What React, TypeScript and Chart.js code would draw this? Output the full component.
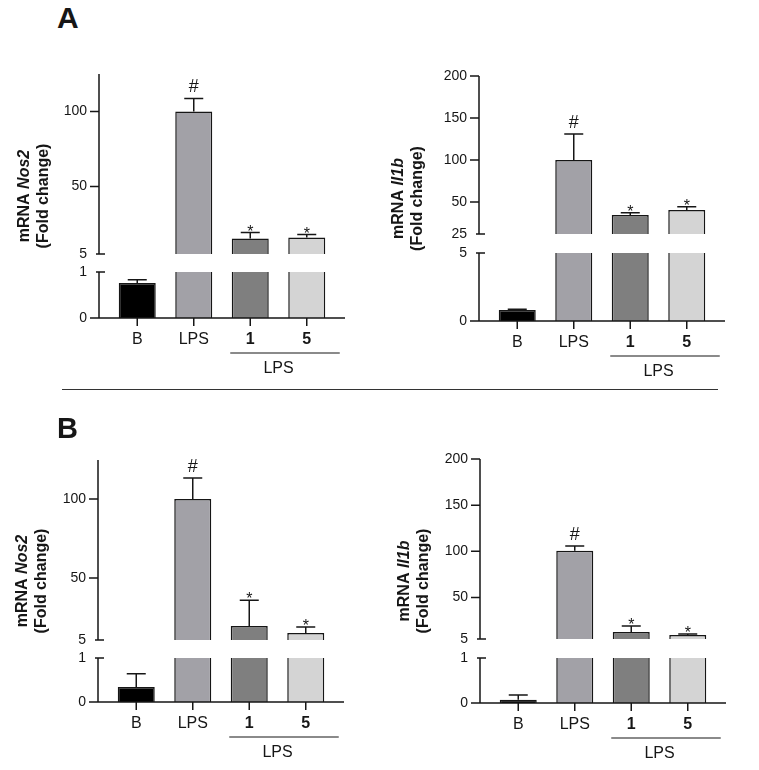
import { useEffect, useRef } from 'react';
import { Chart, registerables } from 'chart.js';

Chart.register(...registerables);

const FONT = '"Liberation Sans", Arial, Helvetica, sans-serif';
const INK = '#161616';

// ---------------- data ----------------
const categories = ['B', 'LPS', '1', '5'];
const boldCategory = [false, false, true, true];
const groupLabel = 'LPS';
const groupFrom = 2;
const groupTo = 3;
const marks = ['', '#', '*', '*'];
const barColors = ['#000000', '#a2a1a7', '#7f7f7f', '#d4d4d4'];

// Panel A – Nos2
const aNos2Mean = [0.76, 100, 15.3, 16];
const aNos2Err = [0.07, 8.7, 4, 2];
const aNos2UpperRange = [5, 125];
const aNos2UpperTicks = [5, 50, 100];
const aNos2UpperLabels = ['5', '50', '100'];
const aNos2LowerRange = [0, 1];
const aNos2LowerTicks = [0, 1];

// Panel A – Il1b
const aIl1bMean = [0.8, 100, 34.5, 40.5];
const aIl1bErr = [0.06, 31, 2.8, 3.9];
const aIl1bUpperRange = [12, 200];
const aIl1bUpperTicks = [12, 50, 100, 150, 200];
const aIl1bUpperLabels = ['25', '50', '100', '150', '200'];
const aIl1bLowerRange = [0, 5];
const aIl1bLowerTicks = [0, 5];

// Panel B – Nos2
const bNos2Mean = [0.34, 100, 19.6, 15.2];
const bNos2Err = [0.3, 13.3, 16.4, 3.8];
const bNos2UpperRange = [10.8, 124.7];
const bNos2UpperTicks = [10.8, 50, 100];
const bNos2UpperLabels = ['5', '50', '100'];
const bNos2LowerRange = [0, 1];
const bNos2LowerTicks = [0, 1];

// Panel B – Il1b
const bIl1bMean = [0.07, 100.5, 12.6, 9.3];
const bIl1bErr = [0.11, 5.3, 6.5, 1.1];
const bIl1bUpperRange = [5, 200];
const bIl1bUpperTicks = [5, 50, 100, 150, 200];
const bIl1bUpperLabels = ['5', '50', '100', '150', '200'];
const bIl1bLowerRange = [0, 1];
const bIl1bLowerTicks = [0, 1];

// ---------------- layout ----------------
const Y_W = 100; // y-scale width inside canvas
const AXIS_GAP = 10; // distance from y axis line to chart area
const AREA_W = 226;
const PAD_T = 32;
const PAD_B = 40;
const PAD_R = 16;
const X_H = 66;

type Spec = {
  gene: string;
  mean: number[];
  err: number[];
  upperRange: number[];
  upperTicks: number[];
  upperLabels: string[];
  lowerRange: number[];
  lowerTicks: number[];
  geo: { axisX: number; top: number; breakTop: number; breakBot: number; base: number; titleDX: number };
};

const panels: Spec[] = [
  {
    gene: 'Nos2', mean: aNos2Mean, err: aNos2Err,
    upperRange: aNos2UpperRange, upperTicks: aNos2UpperTicks, upperLabels: aNos2UpperLabels,
    lowerRange: aNos2LowerRange, lowerTicks: aNos2LowerTicks,
    geo: { axisX: 99, top: 74, breakTop: 254, breakBot: 272, base: 318, titleDX: -74 },
  },
  {
    gene: 'Il1b', mean: aIl1bMean, err: aIl1bErr,
    upperRange: aIl1bUpperRange, upperTicks: aIl1bUpperTicks, upperLabels: aIl1bUpperLabels,
    lowerRange: aIl1bLowerRange, lowerTicks: aIl1bLowerTicks,
    geo: { axisX: 479, top: 76, breakTop: 234, breakBot: 253, base: 321, titleDX: -80 },
  },
  {
    gene: 'Nos2', mean: bNos2Mean, err: bNos2Err,
    upperRange: bNos2UpperRange, upperTicks: bNos2UpperTicks, upperLabels: bNos2UpperLabels,
    lowerRange: bNos2LowerRange, lowerTicks: bNos2LowerTicks,
    geo: { axisX: 98, top: 460, breakTop: 640, breakBot: 658, base: 702, titleDX: -75 },
  },
  {
    gene: 'Il1b', mean: bIl1bMean, err: bIl1bErr,
    upperRange: bIl1bUpperRange, upperTicks: bIl1bUpperTicks, upperLabels: bIl1bUpperLabels,
    lowerRange: bIl1bLowerRange, lowerTicks: bIl1bLowerTicks,
    geo: { axisX: 480, top: 459, breakTop: 639, breakBot: 658, base: 703, titleDX: -75 },
  },
];

function makeDecor(spec: Spec, part: 'upper' | 'lower', canvasTop: number) {
  return {
    id: 'decor_' + part,
    afterDatasetsDraw(chart: any) {
      const ctx = chart.ctx;
      const xs = chart.scales.x;
      const ys = chart.scales.y;
      ctx.save();
      ctx.strokeStyle = INK;
      ctx.fillStyle = INK;
      ctx.lineWidth = 1.5;
      spec.mean.forEach((v, i) => {
        const e = spec.err[i];
        const show = part === 'upper' ? v >= ys.min : v + e <= ys.max;
        if (!show) return;
        const x = xs.getPixelForValue(i);
        const y0 = ys.getPixelForValue(v);
        const y1 = ys.getPixelForValue(v + e);
        ctx.beginPath();
        ctx.moveTo(x, y0);
        ctx.lineTo(x, y1);
        ctx.moveTo(x - 9.5, y1);
        ctx.lineTo(x + 9.5, y1);
        ctx.stroke();
        if (part === 'upper' && marks[i]) {
          ctx.textAlign = 'center';
          ctx.textBaseline = 'alphabetic';
          if (marks[i] === '#') {
            ctx.font = `18px ${FONT}`;
            ctx.fillText('#', x, y1 - 6);
          } else {
            ctx.font = `16px ${FONT}`;
            ctx.fillText(marks[i], x, y1 + 4);
          }
        }
      });
      ctx.restore();
    },
    afterDraw(chart: any) {
      const ctx = chart.ctx;
      const xs = chart.scales.x;
      const ys = chart.scales.y;
      const area = chart.chartArea;
      const ax = area.left - AXIS_GAP;
      ctx.save();
      ctx.strokeStyle = INK;
      ctx.lineWidth = 1.5;
      ctx.beginPath();
      ctx.moveTo(ax, area.top);
      ctx.lineTo(ax, area.bottom);
      ys.ticks.forEach((t: any) => {
        const y = ys.getPixelForValue(t.value);
        const isBreak = part === 'upper' ? t.value === ys.min : t.value === ys.max;
        if (isBreak) {
          ctx.moveTo(ax - 3, y);
          ctx.lineTo(ax + 6, y);
        } else {
          ctx.moveTo(ax - 9, y);
          ctx.lineTo(ax, y);
        }
      });
      if (part === 'lower') {
        ctx.moveTo(ax, area.bottom);
        ctx.lineTo(area.right + AXIS_GAP, area.bottom);
        categories.forEach((_, i) => {
          const x = xs.getPixelForValue(i);
          ctx.moveTo(x, area.bottom);
          ctx.lineTo(x, area.bottom + 8);
        });
      }
      ctx.stroke();

      if (part === 'lower') {
        const x2 = xs.getPixelForValue(groupFrom);
        const x3 = xs.getPixelForValue(groupTo);
        const by = area.bottom;
        ctx.lineWidth = 1.2;
        ctx.beginPath();
        ctx.moveTo(x2 - 20, by + 35);
        ctx.lineTo(x3 + 33, by + 35);
        ctx.stroke();
        ctx.fillStyle = INK;
        ctx.font = `16px ${FONT}`;
        ctx.textAlign = 'center';
        ctx.textBaseline = 'middle';
        ctx.fillText(groupLabel, (x2 + x3) / 2, by + 51);
      } else {
        const g = spec.geo;
        const cx = ax + g.titleDX + 9.5;
        const cy = (g.top + g.base) / 2 - canvasTop;
        ctx.translate(cx, cy);
        ctx.rotate(-Math.PI / 2);
        ctx.fillStyle = INK;
        ctx.textBaseline = 'middle';
        ctx.textAlign = 'left';
        const f1 = `bold 16px ${FONT}`;
        const f2 = `italic bold 16px ${FONT}`;
        ctx.font = f1;
        const w1 = ctx.measureText('mRNA ').width;
        ctx.font = f2;
        const w2 = ctx.measureText(spec.gene).width;
        const x0 = -(w1 + w2) / 2;
        ctx.font = f1;
        ctx.fillText('mRNA ', x0, -9.5);
        ctx.font = f2;
        ctx.fillText(spec.gene, x0 + w1, -9.5);
        ctx.font = f1;
        ctx.textAlign = 'center';
        ctx.fillText('(Fold change)', 0, 9.5);
      }
      ctx.restore();
    },
  };
}

function Segment({ spec, part }: { spec: Spec; part: 'upper' | 'lower' }) {
  const ref = useRef<HTMLCanvasElement>(null);
  const g = spec.geo;
  const isUpper = part === 'upper';
  const areaTop = isUpper ? g.top : g.breakBot;
  const areaBottom = isUpper ? g.breakTop : g.base;
  const left = g.axisX + AXIS_GAP - Y_W;
  const top = areaTop - PAD_T;
  const width = Y_W + AREA_W + PAD_R;
  const height = areaBottom - areaTop + PAD_T + (isUpper ? PAD_B : X_H);

  useEffect(() => {
    const range = isUpper ? spec.upperRange : spec.lowerRange;
    const tickVals = isUpper ? spec.upperTicks : spec.lowerTicks;
    const tickLabels = isUpper ? spec.upperLabels : spec.lowerTicks.map(String);
    const chart = new Chart(ref.current as HTMLCanvasElement, {
      type: 'bar',
      data: {
        labels: categories,
        datasets: [
          {
            data: spec.mean,
            backgroundColor: barColors,
            borderColor: INK,
            borderWidth: 1.5,
            borderSkipped: 'start',
            categoryPercentage: 1,
            barPercentage: 0.655,
            clip: 0,
          } as any,
        ],
      },
      options: {
        responsive: false,
        maintainAspectRatio: false,
        animation: false,
        events: [],
        layout: { padding: { top: PAD_T, bottom: isUpper ? PAD_B : 0, left: 0, right: PAD_R } },
        plugins: { legend: { display: false }, tooltip: { enabled: false } },
        scales: {
          x: {
            type: 'category',
            offset: true,
            display: !isUpper,
            grid: { display: false, drawTicks: false },
            border: { display: false },
            ticks: {
              padding: 12,
              color: INK,
              autoSkip: false,
              maxRotation: 0,
              font: (c: any) => ({ family: FONT, size: 16, weight: boldCategory[c.index] ? 'bold' : 'normal' }),
            },
            afterFit: (s: any) => {
              s.height = isUpper ? 0 : X_H;
            },
          },
          y: {
            type: 'linear',
            min: range[0],
            max: range[1],
            grid: { display: false, drawTicks: false },
            border: { display: false },
            ticks: {
              padding: 22,
              color: INK,
              autoSkip: false,
              font: { family: FONT, size: 14 },
              callback: (_v: any, i: number) => tickLabels[i],
            },
            afterBuildTicks: (s: any) => {
              s.ticks = tickVals.map((v) => ({ value: v }));
            },
            afterFit: (s: any) => {
              s.width = Y_W;
            },
          },
        },
      } as any,
      plugins: [makeDecor(spec, part, top)],
    });
    return () => chart.destroy();
  }, []);

  return (
    <canvas
      ref={ref}
      width={width}
      height={height}
      style={{ position: 'absolute', left, top, width, height }}
    />
  );
}

export default function App() {
  return (
    <div
      style={{
        position: 'absolute',
        left: 0,
        top: 0,
        width: 759,
        height: 770,
        background: '#ffffff',
        overflow: 'hidden',
        fontFamily: FONT,
      }}
    >
      {panels.map((p, k) => (
        <div key={k}>
          <Segment spec={p} part="upper" />
          <Segment spec={p} part="lower" />
        </div>
      ))}
      <div style={{ position: 'absolute', left: 57, top: 3, fontSize: 30, fontWeight: 'bold', lineHeight: '30px', color: INK }}>A</div>
      <div style={{ position: 'absolute', left: 57, top: 414, fontSize: 29, fontWeight: 'bold', lineHeight: '29px', color: INK }}>B</div>
      <div style={{ position: 'absolute', left: 62, top: 389, width: 656, height: 0, borderTop: '1.5px solid #333' }} />
    </div>
  );
}
